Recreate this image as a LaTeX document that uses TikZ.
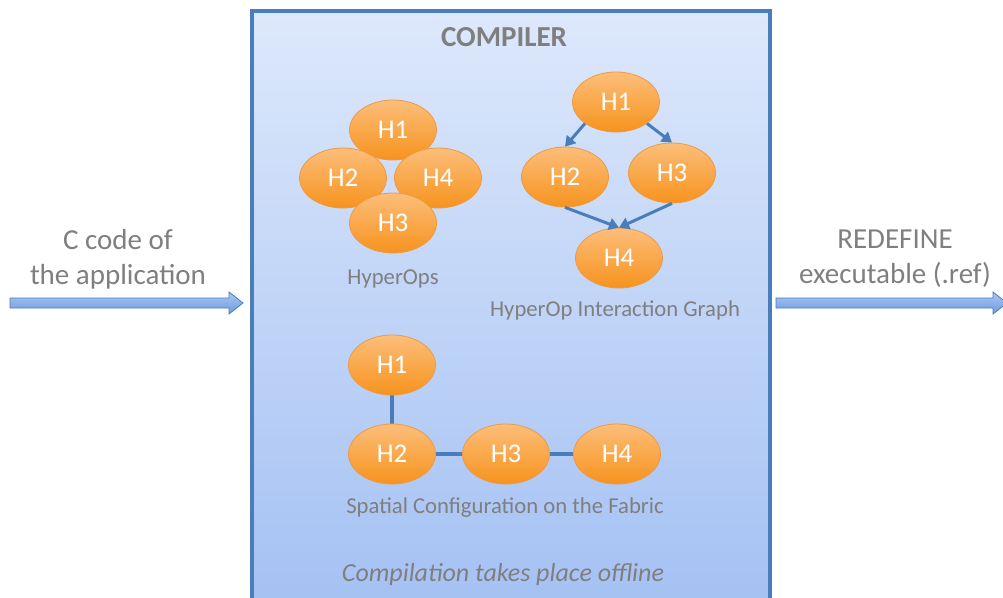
\documentclass[tikz,border=0pt]{standalone}
\usepackage{fontspec}
\setmainfont{Carlito}
\usetikzlibrary{shapes.geometric,arrows.meta}
\definecolor{bordblue}{HTML}{4A7EBB}
\definecolor{txtgray}{HTML}{7F7F7F}
\definecolor{orTop}{HTML}{FCBE7A}
\definecolor{orBot}{HTML}{F7931E}
\definecolor{orLine}{HTML}{EE9A45}
\definecolor{boxTop}{HTML}{DDE8FB}
\definecolor{boxBot}{HTML}{A3C0F3}
\definecolor{arTop}{HTML}{A9C6F3}
\definecolor{arBot}{HTML}{6F9BE0}
\tikzset{
  hop/.style={ellipse, minimum width=87pt, minimum height=60pt, inner sep=0pt,
    top color=orTop, bottom color=orBot, draw=orLine, line width=0.8pt,
    text=white, font=\fontsize{27}{30}\selectfont},
  caption/.style={text=txtgray, font=\fontsize{22.7}{25}\selectfont},
  side/.style={text=txtgray, font=\fontsize{29}{35}\selectfont, align=center},
  flow/.style={draw=bordblue, line width=3pt, -{Triangle[length=10pt,width=12pt]}},
  link/.style={draw=bordblue, line width=3.5pt},
  blockarrow/.style={top color=arTop, bottom color=arBot, draw=bordblue, line width=0.8pt}
}
\begin{document}
\begin{tikzpicture}[x=1pt,y=-1pt]
\useasboundingbox (0,0) rectangle (1003,597);
\clip (0,0) rectangle (1003,597);
% compiler box
\node[draw=bordblue, line width=4pt, top color=boxTop, bottom color=boxBot,
  minimum width=518pt, minimum height=610pt, inner sep=0pt, anchor=north west]
  (box) at (250,9) {};
\node[text=txtgray, font=\fontsize{29}{32}\selectfont\bfseries] (title) at (504,37) {COMPILER};
% HyperOps cluster
\node[hop] (a1) at (393,130) {H1};
\node[hop] (a2) at (343,178) {H2};
\node[hop] (a4) at (438,178) {H4};
\node[hop] (a3) at (393,223) {H3};
\node[caption] (capA) at (393,279) {HyperOps};
% interaction graph
\node[hop] (b1) at (616,102) {H1};
\node[hop] (b2) at (565,177) {H2};
\node[hop] (b3) at (672,173) {H3};
\node[hop] (b4) at (619,258) {H4};
\draw[flow] (b1.south west) -- (b2.north);
\draw[flow] (b1.south east) -- (b3.north);
\draw[flow] (b2.south) -- (b4.north);
\draw[flow] (b3.south) -- (b4.north);
\node[caption] (capB) at (615,310) {HyperOp Interaction Graph};
% spatial configuration
\draw[link] (392,365) -- (392,454);
\draw[link] (392,454) -- (617,454);
\node[hop] (c1) at (392,365) {H1};
\node[hop] (c2) at (392,454) {H2};
\node[hop] (c3) at (506,454) {H3};
\node[hop] (c4) at (617,454) {H4};
\node[caption] (capC) at (505,508) {Spatial Configuration on the Fabric};
\node[text=txtgray, font=\fontsize{26}{28}\selectfont\itshape] (off) at (503,575) {Compilation takes place offline};
% side texts
\node[side] (lt) at (118,259) {C code of\\the application};
\node[side] (rt) at (895,259) {REDEFINE\\executable (.ref)};
% block arrows
\draw[blockarrow] (10,298) -- (229,298) -- (229,292) -- (243,303) -- (229,314) -- (229,308) -- (10,308) -- cycle;
\draw[blockarrow] (776,298) -- (993,298) -- (993,292) -- (1007,303) -- (993,314) -- (993,308) -- (776,308) -- cycle;
\end{tikzpicture}
\end{document}
